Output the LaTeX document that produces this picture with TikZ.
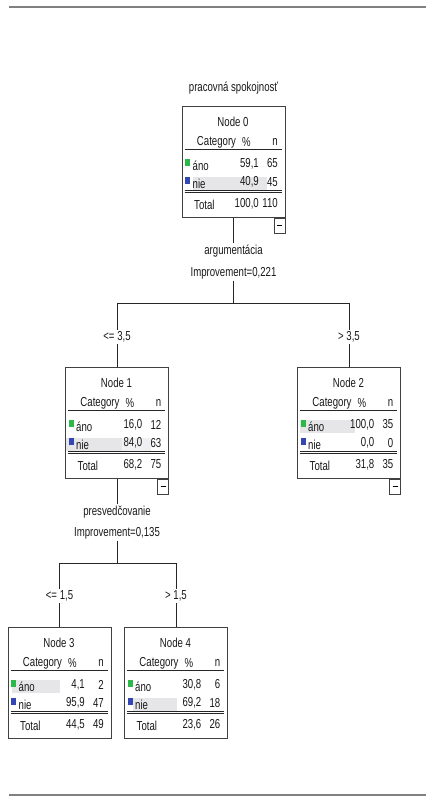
\documentclass[tikz,border=0pt]{standalone}
\usepackage{fontspec}
\setmainfont{Liberation Sans}[FakeStretch=0.74]
\definecolor{frame}{HTML}{404040}
\definecolor{rulegray}{HTML}{808080}
\definecolor{anogreen}{HTML}{2DB84A}
\definecolor{nieblue}{HTML}{3446B4}
\definecolor{hlgray}{HTML}{E6E6E9}
\tikzset{
  txt/.style={font=\fontsize{13}{15}\selectfont, inner sep=1.5pt, text=black!90},
  ctframe/.style={draw=frame, line width=1pt, fill=white, minimum width=103pt, minimum height=111pt, inner sep=0pt},
  minusbox/.style={draw=frame, line width=0.9pt, fill=white, minimum width=11pt, minimum height=15pt, inner sep=0pt},
  conn/.style={draw=black!85, line width=1pt},
  hline/.style={draw=black!85, line width=1.5pt},
  dline/.style={draw=black!85, line width=1pt},
  rulebar/.style={draw=rulegray, line width=2pt},
  hl/.style={fill=hlgray},
}
% box with title, header, category swatches and separators
% #1 name, #2 centre x, #3 top y, #4 node number,
% #5 highlighted row y, #6 highlight start x, #7 highlight end x
\newcommand\ctbox[7]{%
  \node[ctframe, anchor=north] (#1) at (#2,#3) {};
  \begin{scope}[shift={(#1.north west)}]
    \fill[hl] (#6,#5-7) rectangle (#7,#5+6);
    \node[txt] (#1-title) at (51.5,15.5) {Node #4};
    \node[txt] (#1-cat) at (35,36) {Category};
    \node[txt] (#1-pct) at (65,36) {\%};
    \node[txt, anchor=east] (#1-n) at (98,36) {n};
    \draw[hline] (3,43.5) -- (100,43.5);
    \fill[anogreen] (3.5,53) rectangle (8.5,60);
    \fill[nieblue] (3.5,71) rectangle (8.5,78);
    \node[txt, anchor=west] (#1-ano) at (9.5,60) {áno};
    \node[txt, anchor=west] (#1-nie) at (9.5,78) {nie};
    \draw[dline] (3,84.2) -- (100,84.2);
    \draw[dline] (3,86.2) -- (100,86.2);
    \node[txt, anchor=west] (#1-tot) at (11,99) {Total};
  \end{scope}}
% numeric cells: #1 name, #2-#3 áno, #4-#5 nie, #6-#7 total
\newcommand\ctvals[7]{%
  \begin{scope}[shift={(#1.north west)}]
    \node[txt, anchor=east] (#1-ap) at (79,57.5) {#2};
    \node[txt, anchor=east] (#1-an) at (98,57.5) {#3};
    \node[txt, anchor=east] (#1-np) at (79,76) {#4};
    \node[txt, anchor=east] (#1-nn) at (98,76) {#5};
    \node[txt, anchor=east] (#1-tp) at (79,97.5) {#6};
    \node[txt, anchor=east] (#1-tn) at (98,97.5) {#7};
  \end{scope}}
% collapse button under a node
\newcommand\ctminus[1]{%
  \node[minusbox, anchor=north east] (#1-m) at (#1.south east) {};
  \draw[line width=1pt] ([xshift=-2.5pt]#1-m.center) -- ([xshift=2.5pt]#1-m.center);}
\begin{document}
\begin{tikzpicture}[x=1pt,y=-1pt]
\useasboundingbox (0,0) rectangle (426,797);
\fill[white] (0,0) rectangle (426,797);
\draw[rulebar] (9,7) -- (426,7);
\draw[rulebar] (9,795) -- (426,795);

% root
\node[txt] (title) at (233.5,88) {pracovná spokojnosť};
\ctbox{n0}{233.5}{106}{0}{78}{11}{85}
\ctvals{n0}{59,1}{65}{40,9}{45}{100,0}{110}
\ctminus{n0}

% first split
\node[txt] (s0a) at (233.5,251) {argumentácia};
\node[txt] (s0b) at (233.5,273) {Improvement=0,221};
\coordinate (j0) at (233.5,303);

\ctbox{n1}{117}{367}{1}{78}{1}{57}
\fill[hlgray!60] ([shift={(57,71)}]n1.north west) rectangle ([shift={(86,84)}]n1.north west);
\ctvals{n1}{16,0}{12}{84,0}{63}{68,2}{75}
\ctminus{n1}

\ctbox{n2}{349}{367}{2}{60}{3}{58}
\ctvals{n2}{100,0}{35}{0,0}{0}{31,8}{35}
\ctminus{n2}

\node[txt] (e1) at (117,337) {<= 3,5};
\node[txt] (e2) at (349,337) {> 3,5};

\draw[conn] (n0.south) -- (s0a.north);
\draw[conn] (s0b.south) -- (j0);
\draw[conn] (j0 -| n1) -- (j0 -| n2);
\draw[conn] (j0 -| n1) -- (e1.north);
\draw[conn] (e1.south) -- (n1.north);
\draw[conn] (j0 -| n2) -- (e2.north);
\draw[conn] (e2.south) -- (n2.north);

% second split
\node[txt] (s1a) at (117,512) {presvedčovanie};
\node[txt] (s1b) at (117,533) {Improvement=0,135};
\coordinate (j1) at (117,563);

\ctbox{n3}{59.5}{627}{3}{60}{4}{52}
\ctvals{n3}{4,1}{2}{95,9}{47}{44,5}{49}

\ctbox{n4}{176}{627}{4}{78}{9}{53}
\ctvals{n4}{30,8}{6}{69,2}{18}{23,6}{26}

\node[txt] (e3) at (59.5,596) {<= 1,5};
\node[txt] (e4) at (176,596) {> 1,5};

\draw[conn] (n1.south) -- (s1a.north);
\draw[conn] (s1b.south) -- (j1);
\draw[conn] (j1 -| n3) -- (j1 -| n4);
\draw[conn] (j1 -| n3) -- (e3.north);
\draw[conn] (e3.south) -- (n3.north);
\draw[conn] (j1 -| n4) -- (e4.north);
\draw[conn] (e4.south) -- (n4.north);
\end{tikzpicture}
\end{document}
